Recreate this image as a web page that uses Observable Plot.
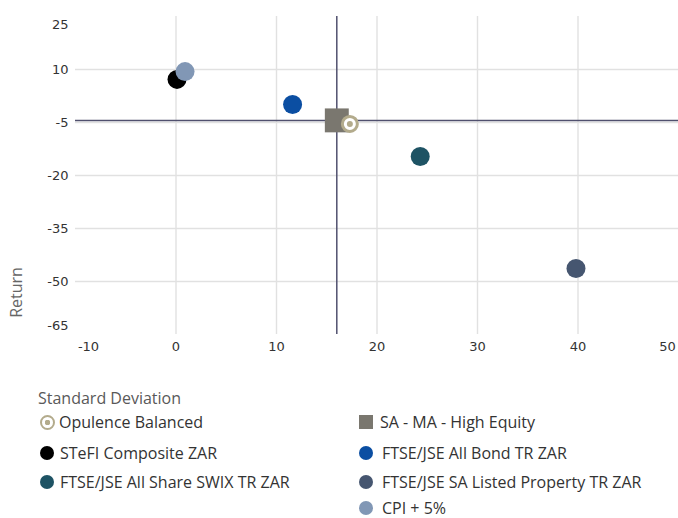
<!DOCTYPE html>
<html>
<head>
<meta charset="utf-8">
<script src="https://cdn.jsdelivr.net/npm/d3@7"></script>
<script src="https://cdn.jsdelivr.net/npm/@observablehq/plot@0.6"></script>
<style>
  html, body { margin: 0; padding: 0; background: #fff; }
  #chart svg { display: block; }
  #legend { position: relative; width: 678px; height: 158px; font-family: "Open Sans", sans-serif; }
  #legend .title { position: absolute; left: 38px; top: 29px; font-size: 16px; line-height: 18px; color: #595959; }
  #legend .item { position: absolute; display: flex; align-items: center; font-size: 16px; line-height: 16px; height: 16px; color: #333; white-space: nowrap; }
  #legend .item .lbl { display: block; line-height: 16px; height: 16px; }
  #legend .icon { display: inline-block; margin-right: 6px; box-sizing: border-box; flex: none; }
</style>
</head>
<body>
<div id="chart"></div>
<div id="legend"></div>
<script>
// ---- data ----
const series = ["Opulence Balanced", "SA - MA - High Equity", "STeFI Composite ZAR", "FTSE/JSE All Bond TR ZAR", "FTSE/JSE All Share SWIX TR ZAR", "FTSE/JSE SA Listed Property TR ZAR", "CPI + 5%"];
const stdDev  = [17.3, 16.0, 0.1, 11.6, 24.3, 39.8, 0.9];
const returns = [-5.4, -4.4, 7.2, 0.1, -14.6, -46.3, 9.4];
const colors  = ["#b3ab8c", "#7a776f", "#000000", "#0b4ea2", "#1e5364", "#465670", "#8197b5"];
const yTicks = [25, 10, -5, -20, -35, -50, -65];
const xTicks = [-10, 0, 10, 20, 30, 40, 50];
const xTitle = "Standard Deviation";
const yTitle = "Return";

const data = series.map((name, i) => ({name, sd: stdDev[i], ret: returns[i], color: colors[i]}));
const fund = data[0];
const peer = data[1];
const others = data.slice(2);

const axisOpts = {tickSize: 0, label: null, fill: "#333", tickFormat: d => String(d)};

const chart = Plot.plot({
  width: 678,
  height: 360,
  marginLeft: 75,
  marginRight: 0,
  marginTop: 16,
  marginBottom: 26,
  x: {domain: [xTicks[0], xTicks[xTicks.length - 1]]},
  y: {domain: [yTicks[yTicks.length - 1], yTicks[0]]},
  style: {fontFamily: "DejaVu Sans", fontSize: "13px", color: "#333", background: "white", overflow: "visible"},
  marks: [
    Plot.gridY(yTicks.slice(1, -1), {stroke: "#e1e1e1", strokeOpacity: 1, strokeWidth: 1.4}),
    Plot.gridX(xTicks.slice(1, -1), {stroke: "#e1e1e1", strokeOpacity: 1, strokeWidth: 1.4}),
    Plot.axisY(yTicks.slice(1, -1), {...axisOpts, tickPadding: 7}),
    Plot.axisY([yTicks[0]], {...axisOpts, tickPadding: 7, dy: 8}),
    Plot.axisY([yTicks[yTicks.length - 1]], {...axisOpts, tickPadding: 7, dy: -9}),
    Plot.axisX(xTicks.slice(1, -1), {...axisOpts, tickPadding: 7}),
    Plot.axisX([xTicks[0]], {...axisOpts, tickPadding: 7, dx: 13}),
    Plot.axisX([xTicks[xTicks.length - 1]], {...axisOpts, tickPadding: 7, dx: -11}),
    Plot.ruleX([peer], {x: "sd", stroke: "#50506e", strokeWidth: 1.5}),
    Plot.ruleY([peer], {y: "ret", stroke: "#50506e", strokeWidth: 1.5}),
    Plot.dot(others, {x: "sd", y: "ret", r: 9.5, fill: "color"}),
    Plot.dot([peer], {x: "sd", y: "ret", symbol: "square", r: 13.5, fill: "color"}),
    Plot.dot([fund], {x: "sd", y: "ret", r: 7.5, fill: "white", stroke: "color", strokeWidth: 3}),
    Plot.dot([fund], {x: "sd", y: "ret", r: 3, fill: "color"}),
    Plot.text([yTitle], {frameAnchor: "bottom-left", dx: -54, dy: -42, rotate: -90, textAnchor: "middle",
      fontFamily: "Open Sans", fontSize: 16, fill: "#666"})
  ]
});
document.getElementById("chart").appendChild(chart);

// ---- legend ----
const legend = document.getElementById("legend");
const t = document.createElement("div");
t.className = "title";
t.textContent = xTitle;
legend.appendChild(t);
const rowY = [62, 93, 122, 148];
data.forEach((d, i) => {
  const col = i < 6 ? i % 2 : 1;
  const row = Math.floor(i / 2);
  const item = document.createElement("div");
  item.className = "item";
  item.style.left = (col === 0 ? 40 : 359) + "px";
  item.style.top = (rowY[row] - 8) + "px";
  const icon = document.createElement("span");
  icon.className = "icon";
  if (i === 0) {
    icon.style.cssText = `width:15px;height:15px;border-radius:50%;border:2.5px solid ${d.color};background:radial-gradient(circle, ${d.color} 0 2.6px, #fff 3px);margin-right:4px;`;
  } else if (i === 1) {
    icon.style.cssText = `width:14px;height:14px;background:${d.color};margin-right:7px;`;
  } else {
    icon.style.cssText = `width:14px;height:14px;border-radius:50%;background:${d.color};margin-right:${col === 0 ? 6 : 9}px;`;
  }
  item.appendChild(icon);
  const s = document.createElement("span");
  s.className = "lbl";
  s.textContent = d.name;
  item.appendChild(s);
  legend.appendChild(item);
});
</script>
</body>
</html>
